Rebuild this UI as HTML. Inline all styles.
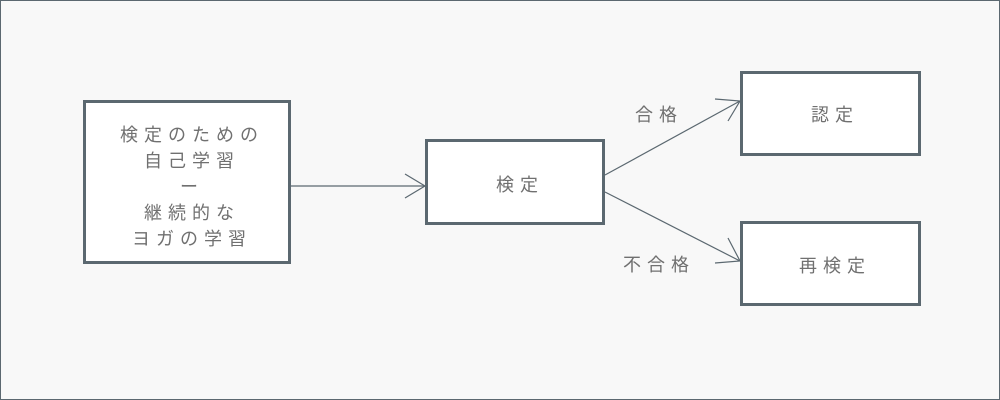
<!DOCTYPE html>
<html><head><meta charset="utf-8"><style>
html,body{margin:0;padding:0;width:1000px;height:400px;overflow:hidden;background:#f8f8f8;}
</style></head><body>
<svg width="1000" height="400" xmlns="http://www.w3.org/2000/svg" style="display:block">
<rect x="0.5" y="0.5" width="999" height="399" fill="#f8f8f8" stroke="#5b6870" stroke-width="1"/>
<g fill="#fff" stroke="#5b6870" stroke-width="3">
<rect x="84.5" y="101.5" width="205" height="161"/>
<rect x="426.5" y="140.5" width="177" height="83"/>
<rect x="741.5" y="72.5" width="178" height="82"/>
<rect x="741.5" y="222.5" width="178" height="82"/>
</g>
<g stroke="#5b6870" stroke-width="1.2" fill="none">
<line x1="291" y1="186" x2="425" y2="186"/>
<polyline points="405,174 425,186 405,198"/>
<line x1="605" y1="175" x2="740" y2="101"/>
<polyline points="715,99 740,101 728,121"/>
<line x1="605" y1="192" x2="740" y2="261"/>
<polyline points="728,238 740,261 715,263"/>
</g>
<g font-family="'Liberation Sans','Noto Sans CJK JP',sans-serif" font-size="18" fill="#707070" text-anchor="middle" letter-spacing="6">
<text x="192" y="141">検定のための</text>
<text x="192" y="167">自己学習</text>
<text x="192" y="193">ー</text>
<text x="192" y="219">継続的な</text>
<text x="192" y="245">ヨガの学習</text>
<text x="520" y="191">検定</text>
<text x="835" y="121">認定</text>
<text x="835" y="272">再検定</text>
<text x="659" y="121">合格</text>
<text x="659" y="271">不合格</text>
</g>
</svg>
</body></html>
